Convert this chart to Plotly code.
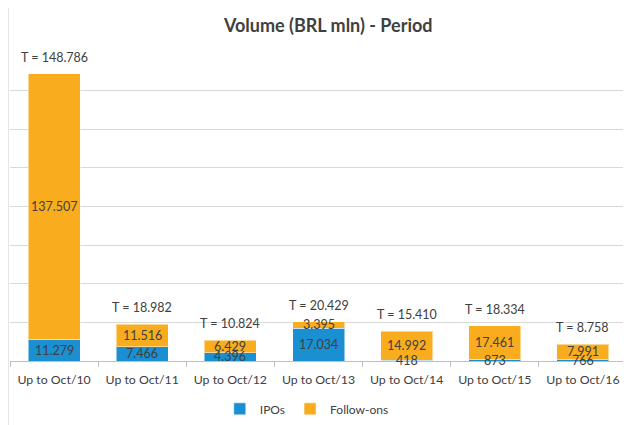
import plotly.graph_objects as go

categories = ["Up to Oct/10", "Up to Oct/11", "Up to Oct/12", "Up to Oct/13",
              "Up to Oct/14", "Up to Oct/15", "Up to Oct/16"]
ipos = [11279, 7466, 4396, 17034, 418, 873, 766]
follow_ons = [137507, 11516, 6429, 3395, 14992, 17461, 7991]
totals = [148786, 18982, 10824, 20429, 15410, 18334, 8758]

BLUE = "#1A8FD1"
ORANGE = "#F9AD1E"
TXT = "#404040"
FONT = "Lato, 'Open Sans', sans-serif"
LBL = 12.5


def fmt(v):
    return f"{v:,}".replace(",", ".")


fig = go.Figure()
fig.add_trace(go.Bar(x=categories, y=ipos, name="IPOs",
                     marker=dict(color=BLUE, line=dict(color="rgba(255,255,255,0.5)", width=1))))
fig.add_trace(go.Bar(x=categories, y=follow_ons, name="Follow-ons",
                     marker=dict(color=ORANGE, line=dict(color="rgba(255,255,255,0.5)", width=1))))

annotations = []
for c, a, b, t in zip(categories, ipos, follow_ons, totals):
    annotations.append(dict(x=c, y=a / 2, text=fmt(a), showarrow=False,
                            xref="x", yref="y", yanchor="middle",
                            font=dict(family=FONT, size=LBL, color=TXT)))
    annotations.append(dict(x=c, y=a + b / 2, text=fmt(b), showarrow=False,
                            xref="x", yref="y", yanchor="middle",
                            font=dict(family=FONT, size=LBL, color=TXT)))
    annotations.append(dict(x=c, y=t, text="T = " + fmt(t), showarrow=False,
                            xref="x", yref="y", yanchor="bottom", yshift=7,
                            font=dict(family=FONT, size=LBL, color=TXT)))

# page body keeps a default 8px margin, so the figure is sized to fit the window
fig.update_layout(
    width=623, height=417,
    barmode="stack",
    bargap=0.41,
    paper_bgcolor="white",
    plot_bgcolor="white",
    margin=dict(l=2, r=4, t=44, b=64, autoexpand=False),
    title=dict(text="<b>Volume (BRL mln) - Period</b>", x=0.514, xanchor="center",
               y=0.957, yanchor="middle",
               font=dict(family=FONT, size=18, color=TXT)),
    xaxis=dict(showline=True, linecolor="#BFBFBF", linewidth=1,
               ticks="outside", ticklen=5, tickcolor="#BFBFBF",
               tickmode="array", tickvals=[-0.5 + i for i in range(8)],
               ticktext=[""] * 8, range=[-0.5, 6.5], automargin=False),
    xaxis2=dict(overlaying="x", range=[-0.5, 6.5],
                tickmode="array", tickvals=list(range(7)), ticktext=categories,
                side="bottom", showline=False, showgrid=False, zeroline=False,
                ticks="outside", ticklen=7, tickcolor="rgba(0,0,0,0)",
                automargin=False,
                tickfont=dict(family=FONT, size=12.3, color=TXT)),
    yaxis=dict(range=[0, 160000], dtick=20000, showticklabels=False,
               showgrid=True, gridcolor="#D9D9D9", gridwidth=1,
               zeroline=False, showline=False, automargin=False),
    legend=dict(orientation="h", x=0.481, xanchor="center", y=-0.108, yanchor="top",
                font=dict(family=FONT, size=12, color=TXT), itemwidth=30,
                traceorder="normal"),
    annotations=annotations,
    shapes=[dict(type="line", xref="paper", yref="paper", x0=-0.0025, x1=-0.0025,
                 y0=-0.21, y1=1.15, line=dict(color="#E6E6E6", width=1), layer="below")],
)
fig.add_trace(go.Scatter(x=[0], y=[0], xaxis="x2", mode="markers",
                         marker=dict(opacity=0), showlegend=False, hoverinfo="skip"))
fig.write_html("out.html")
